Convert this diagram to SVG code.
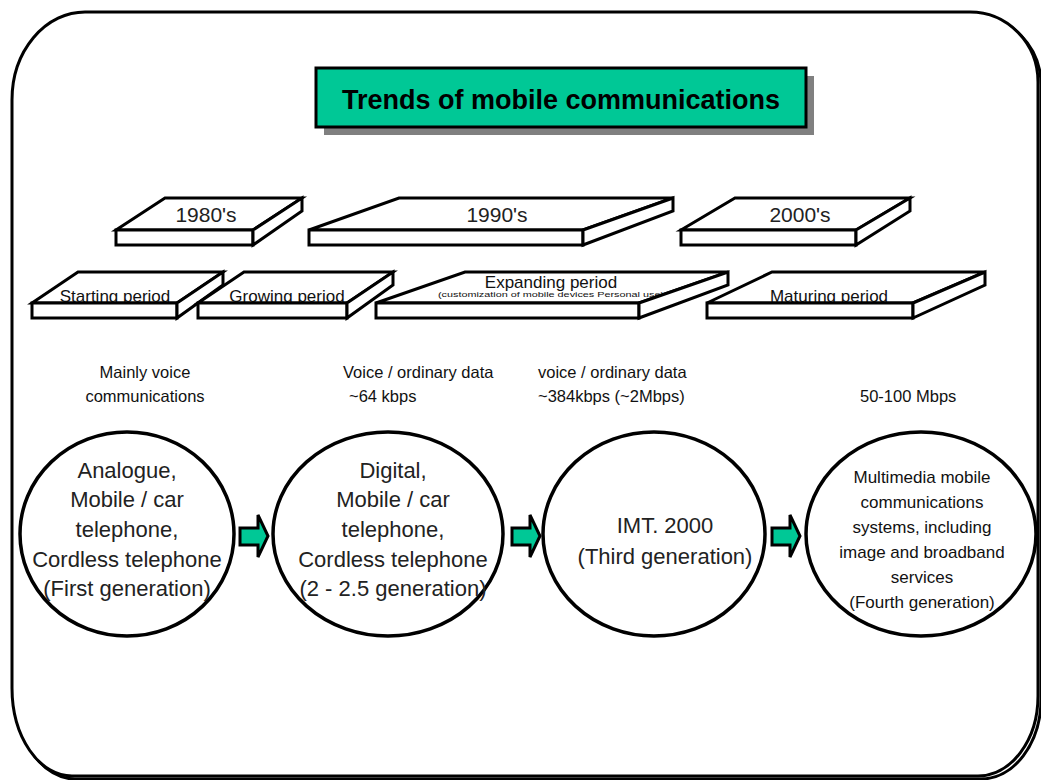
<svg xmlns="http://www.w3.org/2000/svg" width="1041" height="780" viewBox="0 0 1041 780">
<style>
.ln{fill:#fff;stroke:#000;stroke-width:3;stroke-linejoin:miter}
.yr{font-family:"Liberation Sans",Arial,sans-serif;font-size:21px;fill:#222;text-anchor:middle}
.pr{font-family:"Liberation Sans",Arial,sans-serif;font-size:17px;fill:#111;text-anchor:middle}
.cap{font-family:"Liberation Sans",Arial,sans-serif;font-size:16.5px;fill:#111}
.ct{font-family:"Liberation Sans",Arial,sans-serif;font-size:22px;fill:#222;text-anchor:middle}
.c4{font-family:"Liberation Sans",Arial,sans-serif;font-size:17px;fill:#111;text-anchor:middle}
.circ{fill:#fff;stroke:#000;stroke-width:3.5}
.arr{fill:#00C896;stroke:#000;stroke-width:3;stroke-linejoin:miter}
</style>
<rect width="1041" height="780" fill="#fff"/>
<g id="frame">
<path d="M 85 12 L 970 12 A 68 70 0 0 1 1038 82 L 1038 696 A 60 80 0 0 1 978 776 L 72 776 A 60 88 0 0 1 12 688 L 12 100 A 73 88 0 0 1 85 12 Z" fill="none" stroke="#000" stroke-width="3" transform="translate(3,3)"/>
<path d="M 85 12 L 970 12 A 68 70 0 0 1 1038 82 L 1038 696 A 60 80 0 0 1 978 776 L 72 776 A 60 88 0 0 1 12 688 L 12 100 A 73 88 0 0 1 85 12 Z" fill="#fff" stroke="#000" stroke-width="3"/>
</g>
<g id="title">
<rect x="324" y="76" width="490" height="59" fill="#808080"/>
<rect x="316" y="68" width="490" height="59" fill="#00C896" stroke="#000" stroke-width="3"/>
<text x="561" y="109" font-family="'Liberation Sans',Arial,sans-serif" font-size="27" font-weight="bold" text-anchor="middle" fill="#000">Trends of mobile communications</text>
</g>
<g id="y1980">
<polygon class="ln" points="116,230 165,198 302,198 253,230"/>
<text class="yr" x="206" y="222">1980's</text>
<rect class="ln" x="116" y="230" width="137" height="15"/>
<polygon class="ln" points="253,230 302,198 302,211 253,245"/>
</g>
<g id="y1990">
<polygon class="ln" points="309,230 399,198 673,198 583,230"/>
<text class="yr" x="497" y="222">1990's</text>
<rect class="ln" x="309" y="230" width="274" height="15"/>
<polygon class="ln" points="583,230 673,198 673,211 583,245"/>
</g>
<g id="y2000">
<polygon class="ln" points="681,230 735,198 910,198 856,230"/>
<text class="yr" x="800" y="222">2000's</text>
<rect class="ln" x="681" y="230" width="175" height="15"/>
<polygon class="ln" points="856,230 910,198 910,211 856,245"/>
</g>
<g id="starting">
<polygon class="ln" points="32,303 78,272 223,272 177,303"/>
<text class="pr" x="115" y="302">Starting period</text>
<rect class="ln" x="32" y="303" width="145" height="15"/>
<polygon class="ln" points="177,303 223,272 223,285 177,318"/>
</g>
<g id="growing">
<polygon class="ln" points="198,303 244,272 393,272 347,303"/>
<text class="pr" x="287" y="302">Growing period</text>
<rect class="ln" x="198" y="303" width="149" height="15"/>
<polygon class="ln" points="347,303 393,272 393,285 347,318"/>
</g>
<g id="expanding">
<polygon class="ln" points="376,303 465,272 728,272 639,303"/>
<text class="pr" x="551" y="288">Expanding period</text>
<text x="551" y="297" font-family="'Liberation Sans',Arial,sans-serif" font-size="8" fill="#111" text-anchor="middle" textLength="226" lengthAdjust="spacingAndGlyphs">(customization of mobile devices Personal use)</text>
<rect class="ln" x="376" y="303" width="263" height="15"/>
<polygon class="ln" points="639,303 728,272 728,285 639,318"/>
</g>
<g id="maturing">
<polygon class="ln" points="707,303 772,272 985,272 913,303"/>
<text class="pr" x="829" y="302">Maturing period</text>
<rect class="ln" x="707" y="303" width="206" height="15"/>
<polygon class="ln" points="913,303 985,272 985,285 913,318"/>
</g>
<g id="captions">
<text class="cap" x="145" y="378" text-anchor="middle">Mainly voice</text>
<text class="cap" x="145" y="402" text-anchor="middle">communications</text>
<text class="cap" x="343" y="378">Voice / ordinary data</text>
<text class="cap" x="349" y="402">~64 kbps</text>
<text class="cap" x="538" y="378">voice / ordinary data</text>
<text class="cap" x="538" y="402">~384kbps (~2Mbps)</text>
<text class="cap" x="860" y="402">50-100 Mbps</text>
</g>
<g id="gen1">
<ellipse class="circ" cx="127" cy="534" rx="107" ry="102"/>
<text class="ct" x="127" y="478">Analogue,</text>
<text class="ct" x="127" y="507">Mobile / car</text>
<text class="ct" x="127" y="537">telephone,</text>
<text class="ct" x="127" y="567">Cordless telephone</text>
<text class="ct" x="127" y="596">(First generation)</text>
</g>
<g id="gen2">
<ellipse class="circ" cx="388" cy="534" rx="115" ry="102"/>
<text class="ct" x="393" y="478">Digital,</text>
<text class="ct" x="393" y="507">Mobile / car</text>
<text class="ct" x="393" y="537">telephone,</text>
<text class="ct" x="393" y="567">Cordless telephone</text>
<text class="ct" x="393" y="596">(2 - 2.5 generation)</text>
</g>
<g id="gen3">
<ellipse class="circ" cx="654" cy="534" rx="111" ry="102"/>
<text class="ct" x="665" y="533">IMT. 2000</text>
<text class="ct" x="665" y="564">(Third generation)</text>
</g>
<g id="gen4">
<ellipse class="circ" cx="921" cy="534" rx="115" ry="102"/>
<text class="c4" x="922" y="483">Multimedia mobile</text>
<text class="c4" x="922" y="508">communications</text>
<text class="c4" x="922" y="533">systems, including</text>
<text class="c4" x="922" y="558">image and broadband</text>
<text class="c4" x="922" y="583">services</text>
<text class="c4" x="922" y="608">(Fourth generation)</text>
</g>
<g id="connectors">
<path class="arr" d="M 240 528 L 258 528 L 258 515 L 268 536 L 258 557 L 258 545 L 240 545 Z"/>
<path class="arr" d="M 512 528 L 530 528 L 530 515 L 540 536 L 530 557 L 530 545 L 512 545 Z"/>
<path class="arr" d="M 772 528 L 790 528 L 790 515 L 800 536 L 790 557 L 790 545 L 772 545 Z"/>
</g>
</svg>
